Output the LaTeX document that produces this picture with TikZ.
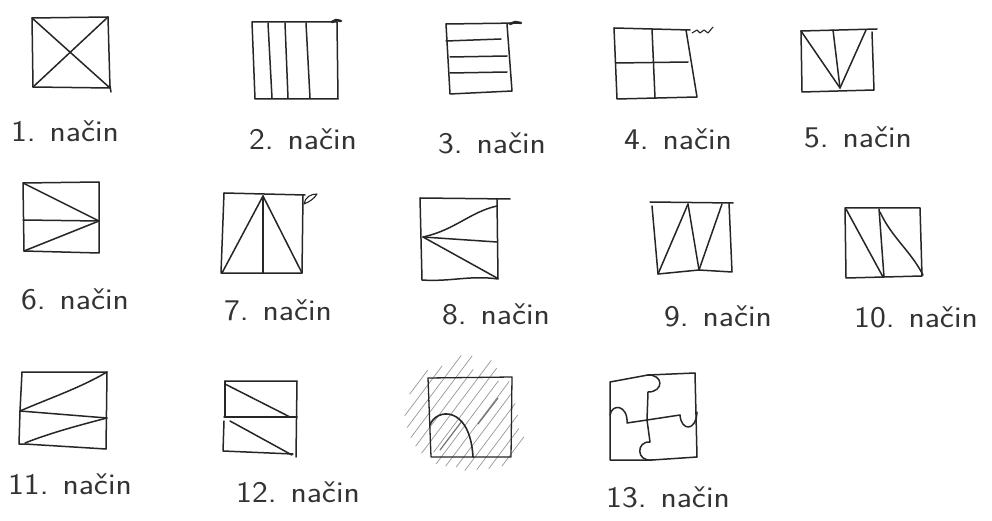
\documentclass[tikz,border=0pt]{standalone}
\usepackage{fontspec}
\usetikzlibrary{calc}
\tikzset{
  pen/.style={line width=1.5pt, black!85, line join=round, line cap=round},
  hatch/.style={line width=0.7pt, black!40, line cap=round},
  lbl/.style={font=\fontsize{30}{32}\selectfont\sffamily, text=black!80, inner sep=0pt}
}
\newcommand{\lbltext}[1]{\scalebox{1.12}[1]{#1}}
\begin{document}
\begin{tikzpicture}[x=1pt,y=-1pt]
\useasboundingbox[fill=white] (0,0) rectangle (992,521);

% 1
\draw[pen] (32,18) -- (108,17) -- (110,88) -- (33,87) -- cycle;
\draw[pen] (32,18) -- (110,88);
\draw[pen] (108,17) -- (33,87);
\draw[pen] (110,86) -- (111,92);
\node[lbl] (l1) at (65,131) {\lbltext{1. način}};

% 2
\draw[pen] (252,22) -- (337,22) -- (338,99) -- (255,99) -- cycle;
\draw[pen] (268,23) -- (272,98);
\draw[pen] (285,23) -- (288,98);
\draw[pen] (306,23) -- (310,98);
\draw[pen, line width=2.5pt] (332,22) -- (336,20) -- (341,21);
\node[lbl] (l2) at (303,139) {\lbltext{2. način}};

% 3
\draw[pen] (446,24) -- (520,23);
\draw[pen] (507,24) -- (512,91) -- (450,94) -- (446,24);
\draw[pen] (446,41) -- (501,39);
\draw[pen] (450,57) -- (507,56);
\draw[pen] (450,73) -- (507,72);
\draw[pen, line width=2.5pt] (510,24) -- (515,22) -- (521,23);
\node[lbl] (l3) at (492,143) {\lbltext{3. način}};

% 4
\draw[pen] (614,28) -- (690,30);
\draw[pen] (686,30) -- (697,97) -- (617,99) -- (614,28);
\draw[pen] (652,29) -- (655,98);
\draw[pen] (616,63) -- (688,62);
\draw[pen, line width=1.1pt] (692,33) -- (697,30) -- (700,33) -- (704,30) -- (708,33) -- (713,27);
\node[lbl] (l4) at (678,139) {\lbltext{4. način}};

% 5
\draw[pen] (801,31) -- (877,29);
\draw[pen] (872,32) -- (874,90) -- (802,92) -- (801,31);
\draw[pen] (801,31) -- (840,88);
\draw[pen] (833,30) -- (840,88);
\draw[pen] (866,30) -- (840,88);
\node[lbl] (l5) at (858,137) {\lbltext{5. način}};

% 6
\draw[pen] (23,183) -- (99,182) -- (99,253) -- (24,251) -- cycle;
\draw[pen] (23,220) -- (99,221);
\draw[pen] (23,183) -- (99,221);
\draw[pen] (24,251) -- (99,221);
\node[lbl] (l6) at (75,299) {\lbltext{6. način}};

% 7
\draw[pen] (224,193) -- (305,195);
\draw[pen] (303,195) -- (302,273) -- (221,273) -- (224,193);
\draw[pen] (263,196) -- (222,273);
\draw[pen] (263,196) -- (263,273);
\draw[pen] (263,196) -- (302,273);
\draw[pen, line width=1.1pt] (304,204) .. controls (305,197) and (311,194) .. (317,194) .. controls (314,199) and (309,202) .. (304,204);
\node[lbl] (l7) at (278,310) {\lbltext{7. način}};

% 8
\draw[pen] (420,198) -- (510,199);
\draw[pen] (497,199) -- (498,279) .. controls (470,275) and (450,282) .. (422,280) -- (420,198);
\draw[pen] (423,237) .. controls (455,230) and (470,212) .. (497,206);
\draw[pen] (423,237) -- (497,242);
\draw[pen] (423,237) -- (497,278);
\node[lbl] (l8) at (496,314) {\lbltext{8. način}};

% 9
\draw[pen] (650,202) -- (733,203);
\draw[pen] (652,206) -- (658,274) -- (699,270) -- (732,272) -- (729,203);
\draw[pen] (658,274) -- (688,204);
\draw[pen] (688,204) -- (699,270);
\draw[pen] (699,270) -- (722,204);
\node[lbl] (l9) at (718,316) {\lbltext{9. način}};

% 10
\draw[pen] (845,208) -- (920,208) -- (922,276) -- (846,278) -- cycle;
\draw[pen] (846,209) -- (883,277);
\draw[pen] (879,209) -- (884,277);
\draw[pen] (880,212) .. controls (892,238) and (910,250) .. (923,275);
\node[lbl] (l10) at (916,317) {\lbltext{10. način}};

% 11
\draw[pen] (22,372) -- (107,372) -- (106,449) -- (25,444) -- (19,444) -- (20,411) -- cycle;
\draw[pen] (20,411) -- (107,418);
\draw[pen] (20,411) .. controls (50,398) and (80,388) .. (107,372);
\draw[pen] (25,443) .. controls (50,433) and (80,425) .. (107,418);
\node[lbl] (l11) at (70,484) {\lbltext{11. način}};

% 12
\draw[pen] (225,381) -- (297,381) -- (296,457);
\draw[pen] (225,381) -- (225,417);
\draw[pen] (224,421) -- (223,451) -- (293,454);
\draw[pen] (224,417) -- (297,417);
\draw[pen] (225,384) -- (290,417);
\draw[pen] (230,421) -- (292,455);
\node[lbl] (l12) at (298,492) {\lbltext{12. način}};

% hatched square
\foreach \c/\a/\b in {-62/-18/12, -53/-38/24, -44/-46/44, -35/-52/50, -26/-56/40, -17/-58/58, -8/-50/55, 1/-58/46, 10/-54/52, 19/-48/44, 28/-46/38, 37/-38/30, 46/-30/20, 55/-20/16}
  \draw[hatch] ($(470,417)+\c*(0.8,0.6)+\a*(0.6,-0.8)$) -- ($(470,417)+\c*(0.8,0.6)+\b*(0.6,-0.8)$);
\draw[hatch, black!55, line width=1.2pt] (440,450) -- (462,421);
\draw[hatch, black!55, line width=1.2pt] (478,424) -- (498,398);
\draw[pen, line width=1.3pt] (428,378) -- (512,377) -- (511,457) -- (431,457) -- cycle;
\draw[pen, line width=1.6pt] (430,425) .. controls (436,408) and (470,405) .. (473,457);

% 13 puzzle
\draw[pen] (610,382) -- (648,375) -- (695,373) -- (697,457) -- (652,460) -- (610,460) -- cycle;
\draw[pen] (647,375) .. controls (664,374) and (664,392) .. (648,392) -- (647,420);
\draw[pen] (647,420) -- (680,415) .. controls (681,431) and (696,432) .. (697,412);
\draw[pen] (647,420) -- (627,423) .. controls (628,405) and (612,403) .. (610,415);
\draw[pen] (647,420) -- (650,442) .. controls (636,441) and (636,462) .. (652,460);
\node[lbl] (l13) at (668,497) {\lbltext{13. način}};
\end{tikzpicture}
\end{document}
